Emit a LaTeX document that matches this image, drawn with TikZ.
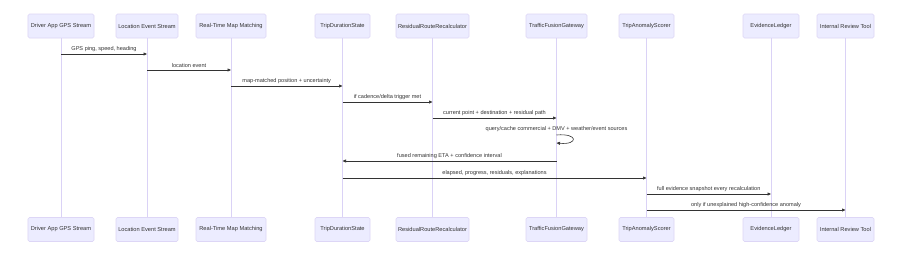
\documentclass[tikz,border=0pt]{standalone}
\usepackage{fontspec}
\setmainfont{Liberation Sans}
\usetikzlibrary{arrows.meta}
\definecolor{actfill}{HTML}{ECECFF}
\definecolor{actline}{HTML}{DDD6F6}
\definecolor{lifeln}{HTML}{DAD2F6}
\definecolor{msgc}{HTML}{333333}
\begin{document}
\begin{tikzpicture}[x=1bp,y=-1bp,
 actor/.style={draw=actline, fill=actfill, rounded corners=1.5bp, line width=0.6bp, minimum height=24bp, inner sep=0pt, font=\fontsize{5.7}{6}\selectfont, text=msgc},
 life/.style={draw=lifeln, line width=0.8bp},
 msgarrow/.style={draw=msgc, line width=0.6bp, -{Triangle[length=3.5bp,width=3bp]}},
 lbl/.style={font=\fontsize{5.6}{6}\selectfont, text=msgc, inner sep=0pt}]
\useasboundingbox[fill=white] (0,0) rectangle (903,261);
% top actors
\node[actor, minimum width=66bp] (tA) at (61,26) {Driver App GPS Stream};
\node[actor, minimum width=62bp] (tB) at (147,26) {Location Event Stream};
\node[actor, minimum width=70bp] (tC) at (231,26) {Real-Time Map Matching};
\node[actor, minimum width=55bp] (tD) at (342.5,26) {TripDurationState};
\node[actor, minimum width=73bp] (tE) at (432.5,26) {ResidualRouteRecalculator};
\node[actor, minimum width=61bp] (tF) at (556.5,26) {TrafficFusionGateway};
\node[actor, minimum width=55bp] (tG) at (646.5,26) {TripAnomalyScorer};
\node[actor, minimum width=56bp] (tH) at (771,26) {EvidenceLedger};
\node[actor, minimum width=57bp] (tI) at (845.5,26) {Internal Review Tool};
% bottom actors
\node[actor, minimum width=66bp] (bA) at (61,229.5) {Driver App GPS Stream};
\node[actor, minimum width=62bp] (bB) at (147,229.5) {Location Event Stream};
\node[actor, minimum width=70bp] (bC) at (231,229.5) {Real-Time Map Matching};
\node[actor, minimum width=55bp] (bD) at (342.5,229.5) {TripDurationState};
\node[actor, minimum width=73bp] (bE) at (432.5,229.5) {ResidualRouteRecalculator};
\node[actor, minimum width=61bp] (bF) at (556.5,229.5) {TrafficFusionGateway};
\node[actor, minimum width=55bp] (bG) at (646.5,229.5) {TripAnomalyScorer};
\node[actor, minimum width=56bp] (bH) at (771,229.5) {EvidenceLedger};
\node[actor, minimum width=57bp] (bI) at (845.5,229.5) {Internal Review Tool};
% lifelines
\foreach \n in {A,B,C,D,E,F,G,H,I}{
  \draw[life] (t\n.south) -- (b\n.north);
}
% messages
\draw[msgarrow] (tA |- 0,54) -- node[midway, above=2.5bp, lbl] {GPS ping, speed, heading} (tB |- 0,54);
\draw[msgarrow] (tB |- 0,70) -- node[midway, above=2.5bp, lbl] {location event} (tC |- 0,70);
\draw[msgarrow] (tC |- 0,86) -- node[midway, above=2.5bp, lbl] {map-matched position + uncertainty} (tD |- 0,86);
\draw[msgarrow] (tD |- 0,102) -- node[midway, above=2.5bp, lbl] {if cadence/delta trigger met} (tE |- 0,102);
\draw[msgarrow] (tE |- 0,118) -- node[midway, above=2.5bp, lbl] {current point + destination + residual path} (tF |- 0,118);
\node[lbl] (selfl) at (556.5,129) {query/cache commercial + DMV + weather/event sources};
\draw[msgarrow] (tF |- 0,135) .. controls +(22,-2) and +(22,2) .. (tF |- 0,143);
\draw[msgarrow] (tF |- 0,161) -- node[midway, above=2.5bp, lbl] {fused remaining ETA + confidence interval} (tD |- 0,161);
\draw[msgarrow] (tD |- 0,178) -- node[midway, above=2.5bp, lbl] {elapsed, progress, residuals, explanations} (tG |- 0,178);
\draw[msgarrow] (tG |- 0,194) -- node[midway, above=2.5bp, lbl] {full evidence snapshot every recalculation} (tH |- 0,194);
\draw[msgarrow] (tG |- 0,210) -- node[midway, above=2.5bp, lbl] {only if unexplained high-confidence anomaly} (tI |- 0,210);
\end{tikzpicture}
\end{document}
